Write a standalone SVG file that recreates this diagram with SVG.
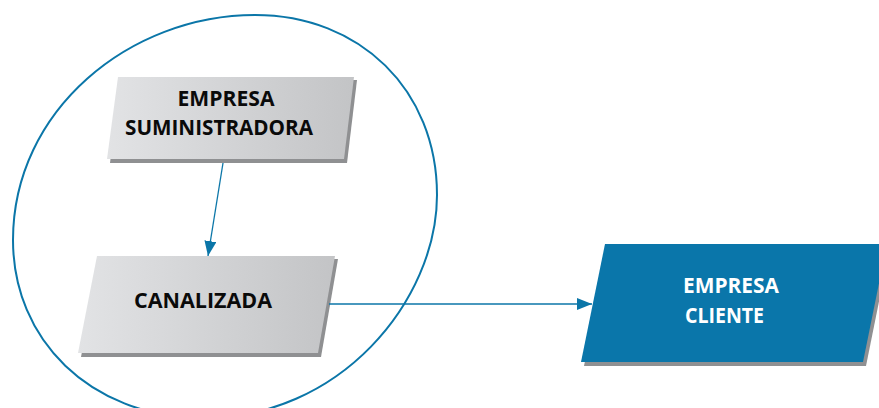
<svg xmlns="http://www.w3.org/2000/svg" width="879" height="408" viewBox="0 0 879 408">
<style>
.lbl{font-family:"Open Sans","Liberation Sans",sans-serif;font-weight:700;font-size:22px}
.dark{fill:#0a0a0a}
.light{fill:#fff}
.shadow{fill:#8f9092}
.conn{stroke:#0B76A8;stroke-width:1.3;fill:none}
</style>
<defs>
<linearGradient id="g" x1="0" y1="0" x2="1" y2="0">
<stop offset="0" stop-color="#e2e3e5"/>
<stop offset="1" stop-color="#c3c4c6"/>
</linearGradient>
<marker id="ah" viewBox="0 0 15 12" refX="15" refY="6" markerWidth="15" markerHeight="12" markerUnits="userSpaceOnUse" orient="auto">
<path d="M0 0 L15 6 L0 12 Z" fill="#0B76A8"/>
</marker>
</defs>
<path d="M255 15 C360 15 437 90 437 195 C437 300 340 420 200 418 C90 416 13 340 13 240 C13 110 130 15 255 15 Z" fill="none" stroke="#0B76A8" stroke-width="2"/>
<g id="suministradora">
<polygon class="shadow" points="121,80 357,80 347,163 110,163"/>
<polygon fill="url(#g)" points="118,77 354,77 344,159 107,159"/>
<text class="lbl dark" x="226" y="106" text-anchor="middle" textLength="97" lengthAdjust="spacingAndGlyphs">EMPRESA</text>
<text class="lbl dark" x="219" y="135" text-anchor="middle" textLength="188" lengthAdjust="spacingAndGlyphs">SUMINISTRADORA</text>
</g>
<g id="canalizada">
<polygon class="shadow" points="100,259 338,259 321,357 81,357"/>
<polygon fill="url(#g)" points="97,256 335,256 318,353 78,353"/>
<text class="lbl dark" x="203" y="308" text-anchor="middle" textLength="138" lengthAdjust="spacingAndGlyphs">CANALIZADA</text>
</g>
<g id="cliente">
<polygon class="shadow" points="608,247 890,247 866,366 584,366"/>
<polygon fill="#0A76AA" points="605,244 887,244 863,362 581,362"/>
<text class="lbl light" x="683" y="293" textLength="96" lengthAdjust="spacingAndGlyphs">EMPRESA</text>
<text class="lbl light" x="685" y="323" textLength="79" lengthAdjust="spacingAndGlyphs">CLIENTE</text>
</g>
<g id="connectors">
<line class="conn" x1="223" y1="163" x2="208" y2="256" marker-end="url(#ah)"/>
<line class="conn" x1="329" y1="304" x2="592" y2="304" marker-end="url(#ah)"/>
</g>
</svg>
